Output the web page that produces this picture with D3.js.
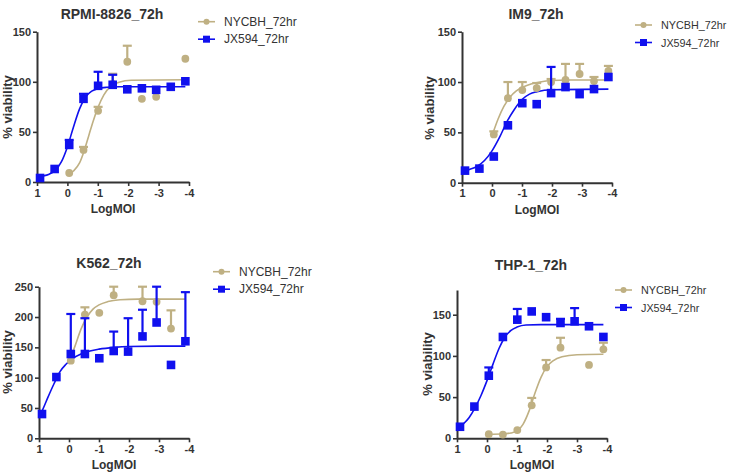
<!DOCTYPE html>
<html><head><meta charset="utf-8">
<script src="https://cdn.jsdelivr.net/npm/d3@7"></script>
<style>body{margin:0;background:#fff;} text{font-family:Arial,"Liberation Sans",sans-serif;}</style>
</head><body>
<script>
// ---------- DATA ----------
const logMOI = [0.9, 0.42, -0.06, -0.53, -1.01, -1.49, -1.97, -2.45, -2.92, -3.40, -3.88];
const xTicks = [1, 0, -1, -2, -3, -4];
const seriesNames = ["NYCBH_72hr", "JX594_72hr"];
const titles = ["RPMI-8826_72h", "IM9_72h", "K562_72h", "THP-1_72h"];
const yTicksA = [0, 50, 100, 150];
const yTicksK562 = [0, 50, 100, 150, 200, 250];
const yMaxes = [150, 150, 250, 180];

// RPMI-8826
const rpmiNYCBH    = [null, null, 9, 32, 71, 98, 120, 83, 85, null, 123];
const rpmiNYCBHErr = [0, 0, 0, 3, 4, 10, 16, 0, 0, 0, 0];
const rpmiJX594    = [4, 13, 37, 83, 96, 97, 92.5, 93.5, 92, 95, 100.5];
const rpmiJX594Err = [0, 0, 5, 5, 14, 10, 0, 0, 0, 0, 0];
const rpmiNYCBHFit = [[-0.06,8],[-0.2,11],[-0.4,19],[-0.55,31],[-0.7,46],[-0.85,61],[-1.0,74],[-1.2,87],[-1.4,95],[-1.7,99.5],[-2.1,101.5],[-3.88,102]];
const rpmiJX594Fit = [[1,5.4],[0.8,6.1],[0.6,7.8],[0.4,11.6],[0.2,20],[0,35],[-0.2,55],[-0.4,73],[-0.6,85],[-0.8,90.7],[-1.0,93.2],[-1.3,94.5],[-1.7,95],[-3.88,95]];

// IM9
const im9NYCBH    = [null, null, 48, 84, 92, 94, 100, 102, 108, 101, 111];
const im9NYCBHErr = [0, 0, 3, 16, 8, 5, 3, 16, 10, 4, 5];
const im9JX594    = [12, 14, 26, 57, 79, 78, 89, 95, 88, 93, 105];
const im9JX594Err = [0, 0, 0, 0, 0, 0, 26, 0, 0, 0, 0];
const im9NYCBHFit = [[-0.04,50],[-0.2,63],[-0.4,76],[-0.6,85],[-0.8,91],[-1.0,94.5],[-1.3,98],[-1.6,100],[-2,101.5],[-2.5,102],[-3.88,102]];
const im9JX594Fit = [[1,11.4],[0.75,13.2],[0.5,16.1],[0.25,22],[0,31.6],[-0.25,45],[-0.5,60.7],[-0.75,73],[-1,82.6],[-1.25,88],[-1.5,90.4],[-2,92.4],[-3.88,93]];

// K562
const k562NYCBH    = [null, null, 128, 204, 207, 236, null, 226, 225, 181, null];
const k562NYCBHErr = [0, 0, 0, 12, 0, 14, 0, 24, 0, 30, 0];
const k562JX594    = [40, 101, 139, 139, 132, 144, 143, 168, 191, 121, 160];
const k562JX594Err = [0, 0, 66, 59, 0, 32, 55, 44, 59, 0, 81];
const k562NYCBHFit = [[0.02,124],[-0.2,152],[-0.4,180],[-0.6,200],[-0.8,213],[-1.0,220],[-1.3,225.5],[-1.7,228.5],[-2.3,229.5],[-3.88,229.5]];
const k562JX594Fit = [[1,36],[0.9,45],[0.7,68],[0.5,90],[0.3,110],[0.1,122],[-0.1,131],[-0.4,139],[-0.7,144],[-1.0,147],[-1.5,150],[-2,151.5],[-3,152],[-3.88,152]];

// THP-1
const thpNYCBH    = [null, null, 5, 4.5, 10, 40, 86, 110, null, 89, 108];
const thpNYCBHErr = [0, 0, 0, 0, 0, 9, 9, 12, 0, 0, 8];
const thpJX594    = [14, 38.5, 76, 123, 144, 154, 147, 140, 142, 136, 123];
const thpJX594Err = [0, 0, 10, 0, 13, 0, 0, 5, 16, 0, 0];
const thpNYCBHFit = [[-0.06,5],[-0.5,5.2],[-0.8,6.5],[-1.0,9],[-1.2,17],[-1.4,33],[-1.6,55],[-1.8,74],[-2.0,87],[-2.2,94],[-2.5,99],[-3.0,101.5],[-3.88,102]];
const thpJX594Fit = [[1,11],[0.8,17],[0.6,25],[0.4,37],[0.2,52],[0,70],[-0.2,90],[-0.4,109],[-0.6,123],[-0.8,131],[-1.0,135],[-1.3,137.5],[-1.8,138],[-3.88,138]];

// ---------- LAYOUT ----------
const W = 734, H = 474;
const TAN = "#bfb083", BLUE = "#1010ee", INK = "#333";
const layout = [
  {x0:37,  x1:189, yTop:31.7,  yBot:182,   lgX:198, lgY:21.7,  lgFont:12,   titleX:112, titleY:19,  ylabX:12,  ylabY:107},
  {x0:462, x1:612, yTop:31.7,  yBot:182.7, lgX:635, lgY:25,    lgFont:10.8, titleX:536, titleY:19,  ylabX:434, ylabY:108},
  {x0:39,  x1:189, yTop:286.7, yBot:438.3, lgX:213, lgY:271.7, lgFont:12,   titleX:109, titleY:268, ylabX:12,  ylabY:362},
  {x0:457, x1:607, yTop:290,   yBot:438.3, lgX:615, lgY:290,   lgFont:10.8, titleX:531, titleY:270, ylabX:432, ylabY:364}
];
const panelData = [
  {title:titles[0], yMax:yMaxes[0], yTicks:yTicksA, nyc:rpmiNYCBH, nycErr:rpmiNYCBHErr, jx:rpmiJX594, jxErr:rpmiJX594Err, nycFit:rpmiNYCBHFit, jxFit:rpmiJX594Fit},
  {title:titles[1], yMax:yMaxes[1], yTicks:yTicksA, nyc:im9NYCBH, nycErr:im9NYCBHErr, jx:im9JX594, jxErr:im9JX594Err, nycFit:im9NYCBHFit, jxFit:im9JX594Fit},
  {title:titles[2], yMax:yMaxes[2], yTicks:yTicksK562, nyc:k562NYCBH, nycErr:k562NYCBHErr, jx:k562JX594, jxErr:k562JX594Err, nycFit:k562NYCBHFit, jxFit:k562JX594Fit},
  {title:titles[3], yMax:yMaxes[3], yTicks:yTicksA, nyc:thpNYCBH, nycErr:thpNYCBHErr, jx:thpJX594, jxErr:thpJX594Err, nycFit:thpNYCBHFit, jxFit:thpJX594Fit}
];

const svg = d3.select("body").append("svg").attr("width", W).attr("height", H);
svg.append("rect").attr("width", W).attr("height", H).attr("fill", "#fff");

function styleAxis(g) {
  g.select(".domain").attr("stroke", INK).attr("stroke-width", 2);
  g.selectAll(".tick line").attr("stroke", INK).attr("stroke-width", 1.6);
  g.selectAll(".tick text").attr("fill", INK).style("font-size", "11px").style("font-weight", "bold");
}

function drawPanel(p, d) {
  const g = svg.append("g");
  const x = d3.scaleLinear().domain([1, -4]).range([p.x0, p.x1]);
  const y = d3.scaleLinear().domain([0, d.yMax]).range([p.yBot, p.yTop]);

  // title
  g.append("text").attr("x", p.titleX).attr("y", p.titleY).attr("text-anchor", "middle")
    .style("font-size", "14px").style("font-weight", "bold").attr("fill", INK).text(d.title);

  // axes
  const ax = g.append("g").attr("transform", `translate(0,${p.yBot})`)
    .call(d3.axisBottom(x).tickValues(xTicks).tickFormat(v => String(v)).tickSize(4).tickSizeOuter(0).tickPadding(3));
  styleAxis(ax);
  const ay = g.append("g").attr("transform", `translate(${p.x0},0)`)
    .call(d3.axisLeft(y).tickValues(d.yTicks).tickFormat(v => String(v)).tickSize(4).tickSizeOuter(0).tickPadding(2));
  styleAxis(ay);

  // axis labels
  g.append("text").attr("x", (p.x0 + p.x1) / 2).attr("y", p.yBot + 31).attr("text-anchor", "middle")
    .style("font-size", "12px").style("font-weight", "bold").attr("fill", INK).text("LogMOI");
  g.append("text").attr("transform", `translate(${p.ylabX},${p.ylabY}) rotate(-90)`).attr("text-anchor", "middle")
    .style("font-size", "13px").style("font-weight", "bold").attr("fill", INK).text("% viability");

  // fit curves
  const line = d3.line().x(v => x(v[0])).y(v => y(v[1])).curve(d3.curveMonotoneX);
  g.append("path").attr("d", line(d.nycFit)).attr("fill", "none").attr("stroke", TAN).attr("stroke-width", 1.6);
  g.append("path").attr("d", line(d.jxFit)).attr("fill", "none").attr("stroke", BLUE).attr("stroke-width", 1.6);

  function series(vals, errs, color, shape) {
    const pts = logMOI.map((m, i) => ({m, v: vals[i], e: errs[i]})).filter(o => o.v != null);
    const eb = pts.filter(o => o.e > 0);
    g.selectAll(null).data(eb).enter().append("line")
      .attr("x1", o => x(o.m)).attr("x2", o => x(o.m)).attr("y1", o => y(o.v)).attr("y2", o => y(o.v + o.e))
      .attr("stroke", color).attr("stroke-width", 2.2);
    g.selectAll(null).data(eb).enter().append("line")
      .attr("x1", o => x(o.m) - 4.5).attr("x2", o => x(o.m) + 4.5).attr("y1", o => y(o.v + o.e)).attr("y2", o => y(o.v + o.e))
      .attr("stroke", color).attr("stroke-width", 2.2);
    if (shape === "circle") {
      g.selectAll(null).data(pts).enter().append("circle")
        .attr("cx", o => x(o.m)).attr("cy", o => y(o.v)).attr("r", 3.9).attr("fill", color);
    } else {
      g.selectAll(null).data(pts).enter().append("rect")
        .attr("x", o => x(o.m) - 4.3).attr("y", o => y(o.v) - 4.3).attr("width", 8.6).attr("height", 8.6).attr("fill", color);
    }
  }
  series(d.nyc, d.nycErr, TAN, "circle");
  series(d.jx, d.jxErr, BLUE, "square");

  // legend
  const rows = [{name: seriesNames[0], color: TAN, shape: "circle"}, {name: seriesNames[1], color: BLUE, shape: "square"}];
  rows.forEach((r, i) => {
    const cy = p.lgY + i * 17.5;
    g.append("line").attr("x1", p.lgX).attr("x2", p.lgX + 17).attr("y1", cy).attr("y2", cy).attr("stroke", r.color).attr("stroke-width", 1.6);
    if (r.shape === "circle") g.append("circle").attr("cx", p.lgX + 8.5).attr("cy", cy).attr("r", 3).attr("fill", r.color);
    else g.append("rect").attr("x", p.lgX + 5).attr("y", cy - 3.5).attr("width", 7).attr("height", 7).attr("fill", r.color);
    g.append("text").attr("x", p.lgX + 26).attr("y", cy + 4.2).style("font-size", p.lgFont + "px").attr("fill", INK).text(r.name);
  });
}

layout.forEach((p, i) => drawPanel(p, panelData[i]));
</script>
</body></html>
